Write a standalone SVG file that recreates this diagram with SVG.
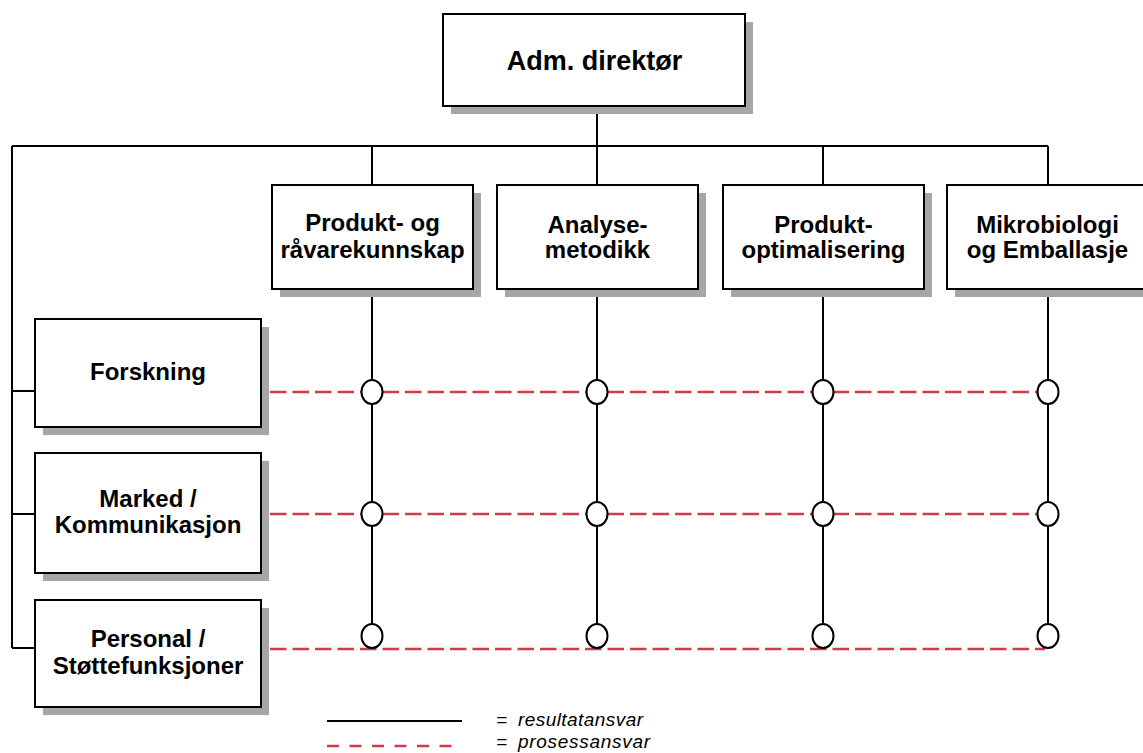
<svg xmlns="http://www.w3.org/2000/svg" width="1143" height="753" viewBox="0 0 1143 753">
<style>
.box{fill:#fff;stroke:#000;stroke-width:2}
.sh{fill:#a6a6a6}
.t{font-family:"Liberation Sans",Arial,sans-serif;font-weight:bold;font-size:24px;text-anchor:middle;fill:#000}
.ln{stroke:#000;stroke-width:2;fill:none}
.rd{stroke:#d13b48;stroke-width:2.7;stroke-dasharray:16.5 6;fill:none}
.c{fill:#fff;stroke:#000;stroke-width:2}
.lg{font-family:"Liberation Sans",Arial,sans-serif;font-style:italic;font-size:19px;fill:#000}
</style>
<rect width="1143" height="753" fill="#fff"/>
<g id="connectors">
<path class="ln" d="M597 106V146M12 146H1048M12 146V648M12 391H35M12 514H35M12 648H35"/>
<path class="ln" d="M372 146V185M597 146V185M823 146V185M1048 146V185"/>
<path class="ln" d="M372 289V624M597 289V624M823 289V624M1048 289V624"/>
<path class="rd" d="M270 392H1040M270 514H1040M270 649H1045"/>
<g id="junctions">
<ellipse class="c" cx="372" cy="392" rx="10.5" ry="12"/>
<ellipse class="c" cx="597" cy="392" rx="10.5" ry="12"/>
<ellipse class="c" cx="823" cy="392" rx="10.5" ry="12"/>
<ellipse class="c" cx="1048" cy="392" rx="10.5" ry="12"/>
<ellipse class="c" cx="372" cy="514" rx="10.5" ry="12"/>
<ellipse class="c" cx="597" cy="514" rx="10.5" ry="12"/>
<ellipse class="c" cx="823" cy="514" rx="10.5" ry="12"/>
<ellipse class="c" cx="1048" cy="514" rx="10.5" ry="12"/>
<ellipse class="c" cx="372" cy="636" rx="10.5" ry="12"/>
<ellipse class="c" cx="597" cy="636" rx="10.5" ry="12"/>
<ellipse class="c" cx="823" cy="636" rx="10.5" ry="12"/>
<ellipse class="c" cx="1048" cy="636" rx="10.5" ry="12"/>
</g>
</g>
<g id="adm">
<rect class="sh" x="451" y="22" width="302" height="92"/>
<rect class="box" x="443" y="14" width="302" height="92"/>
<text class="t" x="594.5" y="70" style="font-size:27px">Adm. direktør</text>
</g>
<g id="produkt-ravare">
<rect class="sh" x="280" y="193" width="201" height="104"/>
<rect class="box" x="272" y="185" width="201" height="104"/>
<text class="t" x="372.5" y="231">Produkt- og</text>
<text class="t" x="372.5" y="258">råvarekunnskap</text>
</g>
<g id="analyse">
<rect class="sh" x="505" y="193" width="201" height="104"/>
<rect class="box" x="497" y="185" width="201" height="104"/>
<text class="t" x="597.5" y="233">Analyse-</text>
<text class="t" x="597.5" y="258">metodikk</text>
</g>
<g id="optimalisering">
<rect class="sh" x="731" y="193" width="201" height="104"/>
<rect class="box" x="723" y="185" width="201" height="104"/>
<text class="t" x="823.5" y="233">Produkt-</text>
<text class="t" x="823.5" y="258">optimalisering</text>
</g>
<g id="mikrobiologi">
<rect class="sh" x="955" y="193" width="201" height="104"/>
<rect class="box" x="947" y="185" width="201" height="104"/>
<text class="t" x="1047.5" y="233">Mikrobiologi</text>
<text class="t" x="1047.5" y="258">og Emballasje</text>
</g>
<g id="forskning">
<rect class="sh" x="43" y="327" width="226" height="108"/>
<rect class="box" x="35" y="319" width="226" height="108"/>
<text class="t" x="148" y="380">Forskning</text>
</g>
<g id="marked">
<rect class="sh" x="43" y="461" width="226" height="120"/>
<rect class="box" x="35" y="453" width="226" height="120"/>
<text class="t" x="148" y="507">Marked /</text>
<text class="t" x="148" y="533">Kommunikasjon</text>
</g>
<g id="personal">
<rect class="sh" x="43" y="608" width="226" height="107"/>
<rect class="box" x="35" y="600" width="226" height="107"/>
<text class="t" x="148" y="647">Personal /</text>
<text class="t" x="148" y="674">Støttefunksjoner</text>
</g>
<g id="legend">
<path class="ln" d="M327 721H462"/>
<path d="M327 746H462" stroke="#d13b48" stroke-width="2.7" stroke-dasharray="12 10.5" fill="none"/>
<text class="lg" x="496" y="726">=</text>
<text class="lg" x="518" y="726" textLength="125" lengthAdjust="spacing">resultatansvar</text>
<text class="lg" x="496" y="748">=</text>
<text class="lg" x="518" y="748" textLength="132" lengthAdjust="spacing">prosessansvar</text>
</g>
</svg>
